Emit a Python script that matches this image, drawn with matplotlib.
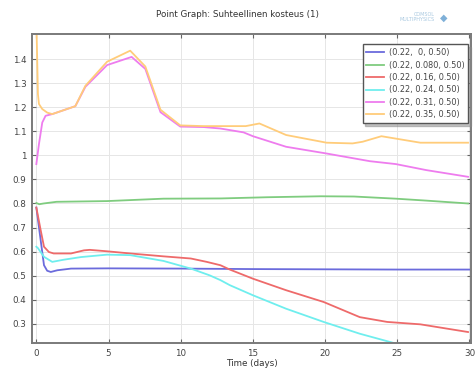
import numpy as np
import matplotlib
matplotlib.use("Agg")
import matplotlib.pyplot as plt
from matplotlib.ticker import FuncFormatter

# Relative humidity at six points over 30 days
labels = ["(0.22,  0, 0.50)", "(0.22, 0.080, 0.50)", "(0.22, 0.16, 0.50)",
          "(0.22, 0.24, 0.50)", "(0.22, 0.31, 0.50)", "(0.22, 0.35, 0.50)"]
colors = ["#6b6bdc", "#7fcc7f", "#ee6a6a", "#6feeee", "#ee7cee", "#ffcc7a"]

t_blue = [0, 0.3, 0.53, 0.75, 1.0, 1.45, 2.4, 5, 10, 15, 20, 25, 30]
v_blue = [0.783, 0.647, 0.543, 0.52, 0.515, 0.522, 0.529, 0.53, 0.529, 0.527, 0.526, 0.525, 0.525]

t_green = [0, 0.2, 0.5, 1.4, 4.9, 8.8, 12.8, 16, 19.7, 22, 24.9, 27, 29.9]
v_green = [0.802, 0.797, 0.80, 0.807, 0.81, 0.82, 0.821, 0.826, 0.83, 0.829, 0.82, 0.812, 0.80]

t_red = [0, 0.3, 0.53, 0.87, 1.2, 2.4, 3.3, 3.7, 4.9, 6.5, 8.8, 10.7, 11.8, 12.75,
         13.4, 15, 17.3, 19.9, 22.4, 24.3, 26.6, 29.9]
v_red = [0.783, 0.689, 0.62, 0.598, 0.592, 0.592, 0.605, 0.607, 0.601, 0.592, 0.58,
         0.571, 0.557, 0.543, 0.525, 0.487, 0.439, 0.39, 0.327, 0.307, 0.297, 0.265]

t_cyan = [0, 0.1, 0.53, 1.1, 1.9, 3.1, 4.9, 6.5, 8.8, 10.7, 12.0, 12.75, 13.4, 15,
          17.3, 19.9, 22.4, 24.9, 25.9, 27]
v_cyan = [0.62, 0.615, 0.578, 0.557, 0.566, 0.577, 0.587, 0.585, 0.561, 0.529, 0.501,
          0.481, 0.46, 0.418, 0.362, 0.307, 0.258, 0.217, 0.197, 0.175]

t_mag = [0, 0.18, 0.41, 0.64, 1.1, 2.7, 3.4, 4.9, 6.6, 7.55, 8.6, 9.97, 11.6, 12.75,
         14.35, 15.0, 17.3, 20.1, 23.1, 24.9, 27, 29.9]
v_mag = [0.964, 1.047, 1.137, 1.165, 1.172, 1.205, 1.286, 1.376, 1.41, 1.36, 1.18,
         1.12, 1.118, 1.112, 1.096, 1.08, 1.036, 1.008, 0.976, 0.964, 0.939, 0.911]

t_yel = [0, 0.07, 0.11, 0.18, 0.41, 0.76, 1.1, 2.7, 3.4, 4.9, 6.5, 7.55, 8.6, 9.97,
         11.6, 12.75, 14.5, 15.45, 17.3, 20.1, 21.9, 22.6, 23.9, 24.9, 26.6, 29.9]
v_yel = [1.56, 1.368, 1.255, 1.214, 1.193, 1.178, 1.172, 1.205, 1.29, 1.39, 1.436, 1.37,
         1.19, 1.125, 1.122, 1.122, 1.122, 1.133, 1.085, 1.053, 1.05, 1.057, 1.08, 1.07,
         1.053, 1.053]

series = [(t_blue, v_blue), (t_green, v_green), (t_red, v_red),
          (t_cyan, v_cyan), (t_mag, v_mag), (t_yel, v_yel)]

fig = plt.figure(figsize=(4.75, 3.69), dpi=100)
ax = fig.add_axes([0.0674, 0.0696, 0.924, 0.838])

for (t, v), c, lab in zip(series, colors, labels):
    ax.plot(t, v, color=c, lw=1.3, label=lab, solid_joinstyle="round")

ax.set_xlim(-0.3, 30.1)
ax.set_ylim(0.218, 1.505)
ax.set_xticks(np.arange(0, 31, 5))
ax.set_yticks(np.round(np.arange(0.3, 1.41, 0.1), 1))
ax.yaxis.set_major_formatter(FuncFormatter(lambda v, p: f"{v:g}"))
ax.tick_params(direction="in", length=3, width=0.8, colors="#666666",
               labelsize=6.3, top=True, right=True, labelcolor="#444444", pad=4)
ax.grid(True, color="#e6e6e6", lw=0.7)
ax.set_axisbelow(True)
for s in ax.spines.values():
    s.set_color("#7a7a7a")
    s.set_linewidth(1.4)

ax.set_xlabel("Time (days)", fontsize=6.3, color="#333333", labelpad=1)
fig.text(0.5, 0.962, "Point Graph: Suhteellinen kosteus (1)", ha="center",
         va="center", fontsize=6.3, color="#333333")
fig.text(0.915, 0.955, "COMSOL\nMULTIPHYSICS", ha="right", va="center",
         fontsize=3.5, color="#a8c8e0", linespacing=1.0)
fig.text(0.935, 0.953, "\u25c6", ha="center", va="center", fontsize=7,
         color="#7fb0d8")

leg = ax.legend(loc="upper right", bbox_to_anchor=(0.997, 0.972), fontsize=5.9,
                frameon=True, fancybox=False,
                shadow={"color": "#888888", "alpha": 0.5, "ox": 2, "oy": -2},
                handlelength=2.2, handletextpad=0.5, borderpad=0.45,
                labelspacing=0.42, borderaxespad=0.2)
leg.get_frame().set_edgecolor("#555555")
leg.get_frame().set_linewidth(1.0)
for txt in leg.get_texts():
    txt.set_color("#444444")

fig.savefig("out.png", dpi=100)
